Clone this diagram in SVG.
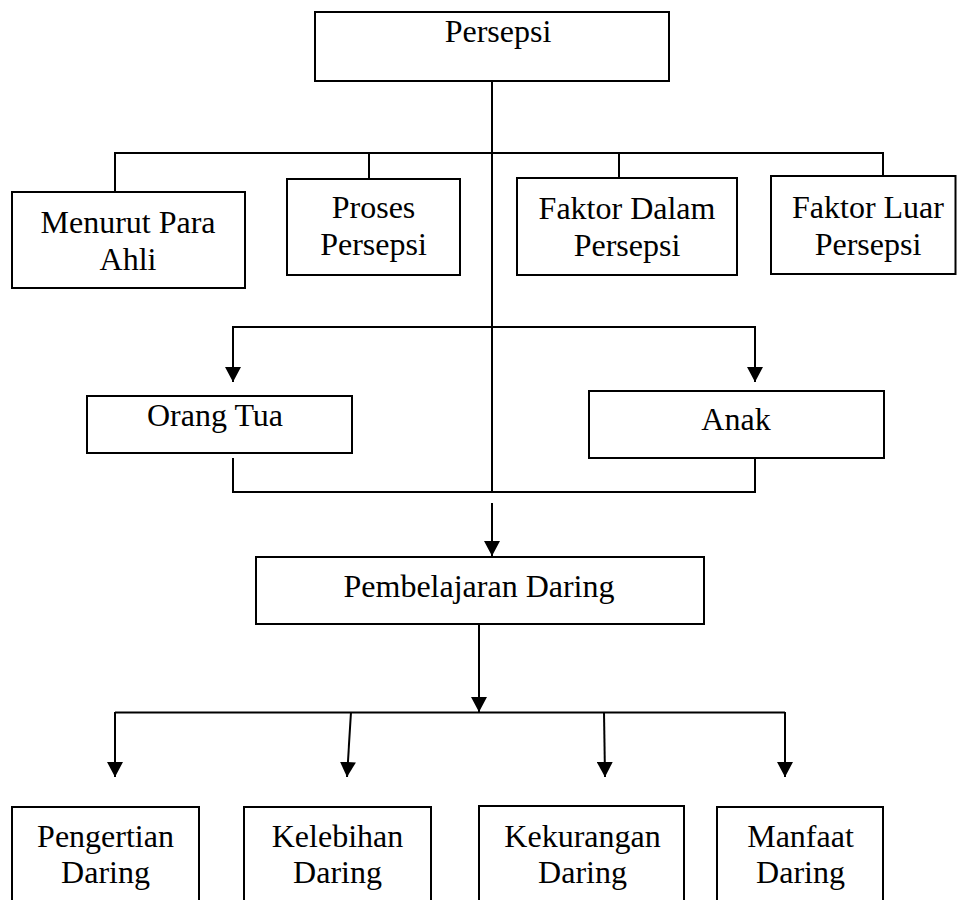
<svg xmlns="http://www.w3.org/2000/svg" width="957" height="900" viewBox="0 0 957 900">
<style>
.box{fill:#fff;stroke:#000;stroke-width:2}
.lbl{font-family:"Liberation Serif","Times New Roman",serif;font-size:32px;fill:#000;text-anchor:middle}
.ln{fill:none;stroke:#000;stroke-width:2}
.arr{fill:none;stroke:#000;stroke-width:2;marker-end:url(#ah)}
</style>
<defs>
<marker id="ah" markerUnits="userSpaceOnUse" markerWidth="15" markerHeight="16" viewBox="0 0 15 16" refX="15" refY="8" orient="auto">
<path d="M0,0 L15,8 L0,16 z" fill="#000"/>
</marker>
</defs>
<rect width="957" height="900" fill="#fff"/>
<g id="connectors">
<path class="ln" d="M492,81 V492"/>
<path class="arr" d="M492,503 V556"/>
<path class="ln" d="M115,192 V153 H883 V176"/>
<path class="ln" d="M369,153 V179"/>
<path class="ln" d="M619,153 V178"/>
<path class="arr" d="M492,327 H233 V382"/>
<path class="arr" d="M492,327 H755 V382"/>
<path class="ln" d="M233,458 V492 H755 V458"/>
<path class="arr" d="M479,624 V712"/>
<path class="ln" d="M115,712.5 H785"/>
<path class="arr" d="M115,712 V777"/>
<path class="arr" d="M351,712 L347,777"/>
<path class="arr" d="M604,712 L605,777"/>
<path class="arr" d="M785,712 V777"/>
</g>
<g id="persepsi">
<rect class="box" x="315" y="12" width="354" height="69"/>
<text class="lbl" x="498" y="42">Persepsi</text>
</g>
<g id="menurut-para-ahli">
<rect class="box" x="12" y="192" width="233" height="96"/>
<text class="lbl" x="128" y="233">Menurut Para</text>
<text class="lbl" x="128" y="269.5">Ahli</text>
</g>
<g id="proses-persepsi">
<rect class="box" x="287" y="179" width="173" height="96"/>
<text class="lbl" x="373.5" y="218">Proses</text>
<text class="lbl" x="373.5" y="254.5">Persepsi</text>
</g>
<g id="faktor-dalam">
<rect class="box" x="517" y="178" width="220" height="97"/>
<text class="lbl" x="627" y="219">Faktor Dalam</text>
<text class="lbl" x="627" y="255.5">Persepsi</text>
</g>
<g id="faktor-luar">
<rect class="box" x="771" y="176" width="184.5" height="98"/>
<text class="lbl" x="868" y="218">Faktor Luar</text>
<text class="lbl" x="868" y="254.5">Persepsi</text>
</g>
<g id="orang-tua">
<rect class="box" x="87" y="396" width="265" height="57"/>
<text class="lbl" x="215" y="426">Orang Tua</text>
</g>
<g id="anak">
<rect class="box" x="589" y="391" width="295" height="67"/>
<text class="lbl" x="736" y="430">Anak</text>
</g>
<g id="pembelajaran-daring">
<rect class="box" x="256" y="557" width="448" height="67"/>
<text class="lbl" x="479" y="597">Pembelajaran Daring</text>
</g>
<g id="pengertian-daring">
<rect class="box" x="12" y="807" width="187" height="110"/>
<text class="lbl" x="105.5" y="846.5">Pengertian</text>
<text class="lbl" x="105.5" y="883">Daring</text>
</g>
<g id="kelebihan-daring">
<rect class="box" x="244" y="807" width="187" height="110"/>
<text class="lbl" x="337.5" y="846.5">Kelebihan</text>
<text class="lbl" x="337.5" y="883">Daring</text>
</g>
<g id="kekurangan-daring">
<rect class="box" x="479" y="806" width="205" height="110"/>
<text class="lbl" x="582.5" y="846.5">Kekurangan</text>
<text class="lbl" x="582.5" y="883">Daring</text>
</g>
<g id="manfaat-daring">
<rect class="box" x="717" y="807" width="166" height="110"/>
<text class="lbl" x="800.5" y="846.5">Manfaat</text>
<text class="lbl" x="800.5" y="883">Daring</text>
</g>
</svg>
